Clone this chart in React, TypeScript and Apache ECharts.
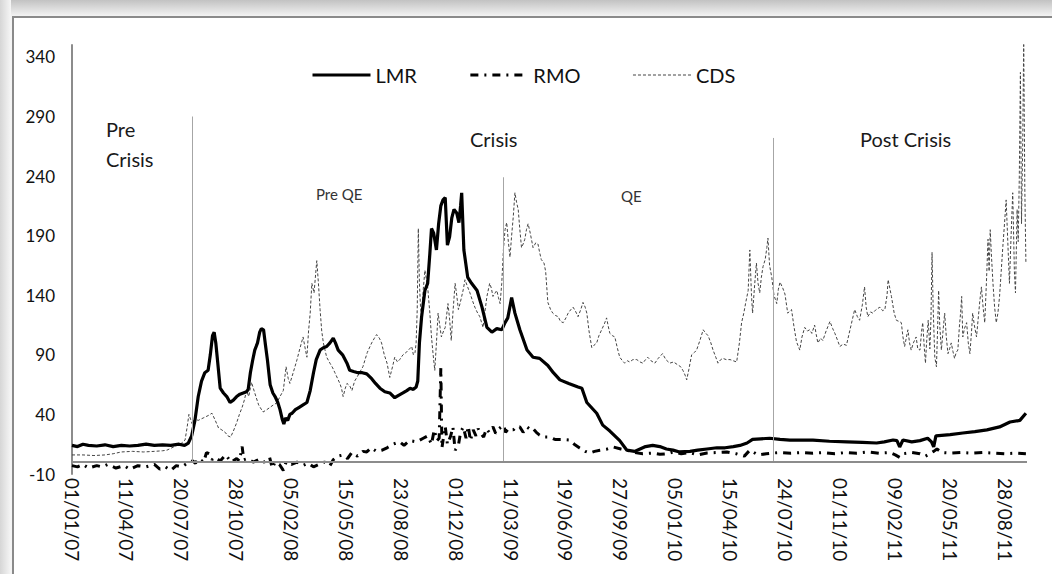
import React, { useEffect, useRef } from "react";
import * as echarts from "echarts";

// x values are days since 01/01/2007
const X_TICK_DAYS = [0, 100, 200, 300, 400, 500, 600, 700, 800, 900, 1000, 1100, 1200, 1300, 1400, 1500, 1600, 1700];
const Y_TICKS = [-10, 40, 90, 140, 190, 240, 290, 340];

const LMR_POINTS = [
  [0, 14], [10, 13], [20, 15], [30, 14], [45, 13.5], [60, 14.5], [75, 13], [90, 14], [105, 13.5], [120, 14], [135, 15], [150, 14],
  [165, 14.5], [180, 14], [195, 15], [205, 14], [212, 16], [218, 22], [224, 35], [230, 55], [236, 68], [242, 75], [248, 77],
  [252, 90], [256, 106], [259, 109], [262, 100], [265, 86], [270, 62], [276, 58], [282, 55], [288, 50], [294, 52], [300, 55],
  [306, 57], [312, 58], [318, 59], [321, 61], [325, 75], [329, 85], [333, 94], [338, 100], [342, 109], [345, 112], [349, 111],
  [352, 100], [356, 86], [361, 65], [366, 58], [370, 55], [375, 50], [379, 44], [383, 36], [386, 32], [389, 37], [393, 35],
  [397, 40], [401, 41], [407, 44], [414, 46], [421, 48], [428, 50], [434, 60], [440, 75], [445, 86], [452, 94], [458, 96],
  [464, 97], [470, 100], [476, 104], [480, 100], [485, 94], [493, 90], [501, 83], [506, 77], [513, 76], [521, 75], [529, 75],
  [537, 74], [546, 70], [553, 66], [561, 62], [570, 59], [579, 58], [588, 54], [595, 56], [603, 58], [610, 60], [616, 62],
  [622, 61], [627, 63], [630, 68], [633, 100], [637, 122], [643, 144], [648, 150], [652, 175], [655, 196], [659, 192],
  [664, 178], [668, 200], [672, 215], [676, 220], [680, 222], [684, 182], [688, 189], [692, 205], [696, 212], [701, 209],
  [705, 201], [708, 215], [710, 226], [714, 178], [721, 155], [728, 150], [738, 144], [747, 130], [756, 113], [765, 109],
  [774, 112], [783, 111], [789, 117], [794, 121], [801, 138], [807, 125], [816, 111], [829, 94], [840, 88], [852, 87],
  [867, 81], [877, 75], [889, 69], [905, 66], [922, 63], [929, 62], [938, 50], [956, 41], [967, 31], [980, 26], [998, 18],
  [1011, 10], [1025, 9], [1035, 11], [1045, 13], [1058, 14], [1071, 13], [1083, 11], [1095, 10], [1107, 8.5], [1126, 9],
  [1140, 10], [1157, 11], [1175, 12], [1190, 12], [1205, 13], [1217, 14], [1230, 16], [1240, 19], [1255, 19.5], [1271, 20],
  [1290, 19], [1308, 18.5], [1330, 18.5], [1350, 18.5], [1380, 17.5], [1412, 17], [1440, 16.5], [1466, 16], [1480, 17],
  [1496, 18.5], [1503, 18], [1508, 12.7], [1514, 18.5], [1530, 17], [1545, 18], [1559, 20], [1566, 17], [1570, 12.7],
  [1574, 22], [1600, 23], [1623, 24.4], [1645, 25.5], [1667, 27], [1690, 29.5], [1709, 33.6], [1727, 35], [1738, 41],
];

const RMO_POINTS = [
  [0, -3], [10, -4], [20, -2], [30, -5], [45, -3], [55, -4], [65, -2], [80, -5], [95, -3], [105, -6], [120, -3], [135, -4],
  [150, -2], [160, -6], [170, -4], [180, -7], [190, -3], [200, -4], [210, -1], [220, 1], [225, -1], [230, 3], [240, 0],
  [245, 8], [250, 7], [255, 2], [260, 4], [270, 1], [280, 6], [290, 0], [300, 3], [305, 1], [310, 13], [313, 2], [320, 3],
  [330, 0], [340, 2], [350, 0], [360, 4], [365, -5], [370, 0], [378, -2], [385, -7], [390, 0], [400, -2], [410, 0],
  [420, -3], [430, -1], [440, -4], [450, -2], [460, 0], [470, -3], [476, 2], [485, 5], [494, 6], [502, 3], [510, 8],
  [520, 5], [530, 9], [537, 8.5], [545, 12], [555, 9], [565, 10], [574, 12], [585, 15], [597, 17], [605, 14], [615, 18],
  [628, 17], [640, 20], [648, 22], [655, 15], [660, 27], [665, 18], [669, 20], [672, 79], [674, 12], [680, 30], [684, 15],
  [690, 22], [694, 29.5], [698, 10], [704, 14], [708, 25], [713, 29.5], [718, 20], [722, 30], [726, 18], [731, 27],
  [736, 22], [740, 28], [745, 24], [750, 21], [755, 28], [760, 25], [767, 29.5], [772, 24], [778, 28], [786, 31], [790, 25],
  [795, 28], [804, 27], [810, 30], [816, 29.5], [822, 25], [829, 29.5], [836, 27], [840, 28], [846, 25], [852, 22.7],
  [860, 21], [870, 21], [880, 19], [893, 19], [907, 18.5], [915, 15], [925, 11.8], [935, 9], [943, 7.6], [952, 9],
  [962, 10], [975, 11], [986, 12.7], [1000, 11], [1011, 10], [1025, 8], [1040, 7], [1058, 7.6], [1071, 6.5], [1085, 7],
  [1095, 8.5], [1110, 7], [1125, 8], [1140, 6], [1157, 7.6], [1175, 8], [1193, 8.5], [1210, 7], [1225, 5], [1235, 10],
  [1250, 6], [1265, 7], [1277, 7.6], [1290, 8], [1310, 7.5], [1330, 8], [1350, 7.5], [1370, 8], [1390, 7], [1410, 8],
  [1430, 7.5], [1450, 8.5], [1470, 7.5], [1490, 8], [1500, 6], [1508, 4], [1515, 7], [1530, 8], [1545, 7], [1555, 5],
  [1563, 7], [1570, 9], [1576, 11], [1585, 8], [1600, 7.5], [1620, 8], [1640, 7.5], [1660, 8], [1680, 7.5], [1700, 7],
  [1720, 7.5], [1738, 7],
];

const CDS_POINTS = [
  [0, 6], [20, 6], [40, 5.5], [60, 6], [75, 7], [90, 8.5], [110, 9], [130, 8.5], [150, 9], [165, 9.5], [173, 10], [182, 12],
  [191, 14], [200, 16], [206, 18.5], [210, 30], [213, 40], [216, 36], [219, 32], [224, 36], [230, 35], [239, 37], [248, 39],
  [255, 41], [261, 35], [267, 28.6], [273, 27], [279, 25], [284, 22], [289, 21], [294, 26], [300, 33], [305, 40], [310, 46],
  [314, 52], [318, 60], [322, 55], [327, 67], [333, 58], [340, 48], [348, 42], [355, 44], [361, 46], [367, 48], [373, 49.6],
  [379, 55], [385, 60], [390, 80], [394, 70], [397, 66], [403, 75], [410, 86], [415, 95], [421, 105], [425, 95], [428, 88],
  [431, 110], [434, 125], [437, 150], [441, 142], [446, 169], [449, 150], [452, 128], [455, 110], [458, 100], [464, 88],
  [470, 83], [475, 79], [479, 75], [484, 70], [488, 66], [491, 62], [494, 55], [498, 62], [501, 66], [506, 64], [510, 60],
  [515, 68], [519, 71], [525, 76], [530, 80], [538, 92], [546, 100], [551, 104], [555, 107], [560, 104], [564, 100],
  [569, 90], [574, 83], [579, 71], [584, 80], [588, 88], [593, 84], [597, 86], [603, 90], [610, 92.5], [615, 95],
  [619, 97], [622, 90], [625, 92], [627, 100], [629, 128], [631, 196], [633, 150], [635, 130], [637, 122], [640, 145],
  [643, 161], [648, 147], [652, 125], [655, 105], [658, 90], [661, 77], [664, 100], [667, 125], [670, 115], [673, 105],
  [677, 110], [680, 113], [685, 133], [688, 120], [691, 102], [694, 125], [698, 150], [701, 140], [704, 128], [707, 133],
  [710, 139], [713, 145], [716, 153], [720, 148], [725, 142], [730, 135], [734, 130], [738, 126], [743, 122], [749, 113],
  [752, 125], [756, 139], [761, 150], [764, 146], [767, 139], [771, 142], [774, 144], [777, 138], [780, 133], [783, 150],
  [786, 178], [789, 195], [792, 201], [795, 185], [798, 172], [801, 190], [804, 206], [807, 226], [810, 218], [813, 212],
  [816, 195], [819, 180], [822, 183], [825, 187], [828, 195], [831, 200], [835, 192], [840, 180], [845, 184], [849, 183],
  [852, 176], [855, 170], [860, 167], [863, 160], [867, 134], [872, 128], [876, 125], [881, 123], [886, 122], [890, 118],
  [895, 117], [900, 121], [904, 125], [909, 128], [913, 130], [918, 126], [922, 122], [927, 128], [931, 134], [935, 130],
  [938, 125], [942, 110], [947, 96], [951, 98], [956, 100], [960, 106], [965, 111], [970, 116], [974, 121], [977, 114],
  [980, 108], [985, 106], [989, 105], [994, 95], [998, 88], [1003, 85], [1007, 83], [1012, 85], [1016, 84], [1022, 86],
  [1029, 86], [1035, 84], [1040, 83], [1045, 86], [1049, 88], [1055, 85], [1062, 83], [1068, 87], [1076, 91], [1082, 86],
  [1089, 83], [1096, 84], [1104, 81.5], [1109, 80], [1113, 77], [1117, 73], [1120, 69], [1124, 78], [1129, 90], [1134, 92],
  [1138, 94], [1144, 102], [1150, 111], [1155, 108], [1159, 106], [1164, 100], [1168, 94], [1173, 88], [1177, 83],
  [1182, 86], [1186, 87], [1192, 86], [1199, 86], [1205, 85], [1211, 84], [1216, 100], [1220, 117], [1224, 125], [1228, 135],
  [1232, 144], [1235, 178], [1238, 140], [1240, 125], [1244, 150], [1247, 167], [1250, 150], [1253, 142], [1256, 155],
  [1259, 164], [1263, 170], [1266, 180], [1268, 188], [1271, 165], [1275, 155], [1279, 140], [1284, 133], [1287, 145],
  [1290, 151], [1295, 146], [1299, 141], [1304, 125], [1311, 128], [1315, 115], [1320, 101], [1326, 94], [1330, 105],
  [1335, 113], [1340, 110], [1344, 111], [1348, 108], [1353, 115], [1356, 107], [1359, 100], [1364, 104], [1368, 102],
  [1374, 110], [1381, 118], [1386, 112], [1390, 108], [1395, 102], [1399, 97], [1405, 99], [1411, 98], [1418, 112],
  [1426, 128], [1431, 122], [1435, 119], [1440, 132], [1444, 147], [1447, 130], [1450, 122], [1455, 126], [1459, 125],
  [1465, 128], [1472, 130], [1477, 127], [1481, 128], [1485, 140], [1487, 153], [1490, 146], [1493, 139], [1498, 125],
  [1502, 119], [1507, 118], [1511, 117], [1514, 105], [1517, 97], [1520, 104], [1523, 111], [1526, 100], [1529, 94],
  [1533, 100], [1538, 105], [1541, 95], [1545, 94], [1548, 110], [1550, 117], [1553, 95], [1555, 83], [1557, 100],
  [1560, 119], [1563, 95], [1565, 120], [1567, 176], [1569, 130], [1572, 88], [1575, 80], [1577, 110], [1579, 144],
  [1581, 115], [1584, 94], [1587, 110], [1590, 125], [1593, 105], [1596, 91], [1599, 95], [1602, 100], [1605, 93],
  [1608, 87], [1611, 92], [1614, 94], [1617, 115], [1619, 125], [1621, 139], [1623, 105], [1626, 112], [1630, 117],
  [1633, 100], [1636, 91], [1639, 110], [1641, 125], [1644, 115], [1648, 105], [1651, 120], [1654, 135], [1657, 147],
  [1660, 130], [1663, 117], [1666, 150], [1669, 187], [1671, 160], [1673, 195], [1675, 175], [1678, 150], [1681, 130],
  [1684, 117], [1687, 125], [1690, 139], [1693, 160], [1696, 181], [1699, 200], [1702, 220], [1705, 185], [1708, 150],
  [1711, 190], [1714, 226], [1717, 160], [1719, 142], [1722, 212], [1724, 185], [1726, 240], [1728, 327], [1730, 200],
  [1732, 260], [1734, 352], [1736, 230], [1738, 167],
];

// period boundaries: [day, top value of the divider]
const PERIOD_BOUNDS = [
  [220, 290],
  [785, 239],
  [1278, 272],
];

const FONT = "Lato, 'Open Sans', 'DejaVu Sans', sans-serif";
const START_UTC = Date.UTC(2007, 0, 1);

function dayLabel(d: number): string {
  const dt = new Date(START_UTC + d * 86400000);
  const dd = String(dt.getUTCDate()).padStart(2, "0");
  const mm = String(dt.getUTCMonth() + 1).padStart(2, "0");
  const yy = String(dt.getUTCFullYear() % 100).padStart(2, "0");
  return `${dd}/${mm}/${yy}`;
}

export default function App() {
  const ref = useRef<HTMLDivElement>(null);

  useEffect(() => {
    if (!ref.current) return;
    const chart = echarts.init(ref.current, undefined, { renderer: "svg" });
    const textEl = (text: string, x: number, y: number, size: number, fill = "#1a1a1a") => ({
      type: "text",
      x,
      y,
      silent: true,
      style: { text, fill, font: `${size}px ${FONT}`, textVerticalAlign: "middle" },
    });
    chart.setOption({
      animation: false,
      backgroundColor: "transparent",
      grid: { left: 72, right: 25, top: 45, bottom: 100 },
      legend: {
        left: 306,
        top: 60,
        itemWidth: 58,
        itemHeight: 14,
        itemGap: 52,
        itemStyle: { opacity: 0 },
        textStyle: { fontFamily: FONT, fontSize: 20, color: "#111" },
        data: [
          { name: "LMR", lineStyle: { width: 3 } },
          { name: "RMO", lineStyle: { width: 3 } },
          { name: "CDS", lineStyle: { width: 1 } },
        ],
      },
      xAxis: {
        type: "value",
        min: 0,
        max: 1740,
        interval: 100,
        axisLine: { show: false },
        axisTick: { show: false },
        splitLine: { show: false },
        axisLabel: {
          customValues: X_TICK_DAYS,
          rotate: -90,
          margin: 4,
          fontFamily: FONT,
          fontSize: 19,
          color: "#111",
          formatter: (v: number) => dayLabel(v),
        },
      },
      yAxis: {
        type: "value",
        min: -10,
        max: 350,
        axisLine: { show: true, lineStyle: { color: "#8c8c8c", width: 2 } },
        axisTick: { show: false },
        splitLine: { show: false },
        axisLabel: {
          customValues: Y_TICKS,
          margin: 17,
          fontFamily: FONT,
          fontSize: 17,
          color: "#111",
        },
      },
      graphic: [
        textEl("Pre", 106, 129, 20),
        textEl("Crisis", 106, 159, 20),
        textEl("Crisis", 470, 139, 20),
        textEl("Pre QE", 316, 194, 15, "#333"),
        textEl("QE", 621, 196, 15, "#333"),
        textEl("Post Crisis", 860, 139, 20),
      ],
      series: [
        {
          name: "CDS",
          type: "line",
          data: CDS_POINTS,
          symbol: "none",
          showSymbol: false,
          itemStyle: { color: "#444" },
          lineStyle: { color: "#444", width: 1, type: [3, 2] },
          z: 2,
          markLine: {
            silent: true,
            symbol: ["none", "none"],
            label: { show: false },
            lineStyle: { color: "#a6a6a6", width: 1, type: "solid" },
            data: [
              ...PERIOD_BOUNDS.map(([d, top]) => [{ coord: [d, 0] }, { coord: [d, top] }]),
              { yAxis: 0, lineStyle: { color: "#8c8c8c", width: 2, type: "solid" } },
            ],
          },
        },
        {
          name: "RMO",
          type: "line",
          data: RMO_POINTS,
          symbol: "none",
          showSymbol: false,
          itemStyle: { color: "#000" },
          lineStyle: { color: "#000", width: 3, type: [8, 6, 2, 6] },
          z: 3,
        },
        {
          name: "LMR",
          type: "line",
          data: LMR_POINTS,
          symbol: "none",
          showSymbol: false,
          itemStyle: { color: "#000" },
          lineStyle: { color: "#000", width: 3.2 },
          z: 4,
        },
      ],
    });
    return () => chart.dispose();
  }, []);

  return (
    <div style={{ position: "fixed", left: 0, top: 0, width: 1052, height: 574, overflow: "hidden", background: "#f4f4f4" }}>
      <div style={{ position: "absolute", left: 0, top: 0, width: 1052, height: 16, background: "linear-gradient(to bottom, #c2c2c2, #f3f3f3)" }} />
      <div style={{ position: "absolute", left: 0, top: 0, width: 11, height: 574, background: "linear-gradient(to right, #d6d6d6, #f6f6f6)" }} />
      <div
        style={{
          position: "absolute",
          left: 12,
          top: 16,
          width: 1060,
          height: 580,
          background: "#fff",
          borderLeft: "2px solid #8a8a8a",
          borderTop: "2px solid #8a8a8a",
          boxSizing: "border-box",
        }}
      />
      <div ref={ref} style={{ position: "absolute", left: 0, top: 0, width: 1052, height: 574 }} />
    </div>
  );
}
